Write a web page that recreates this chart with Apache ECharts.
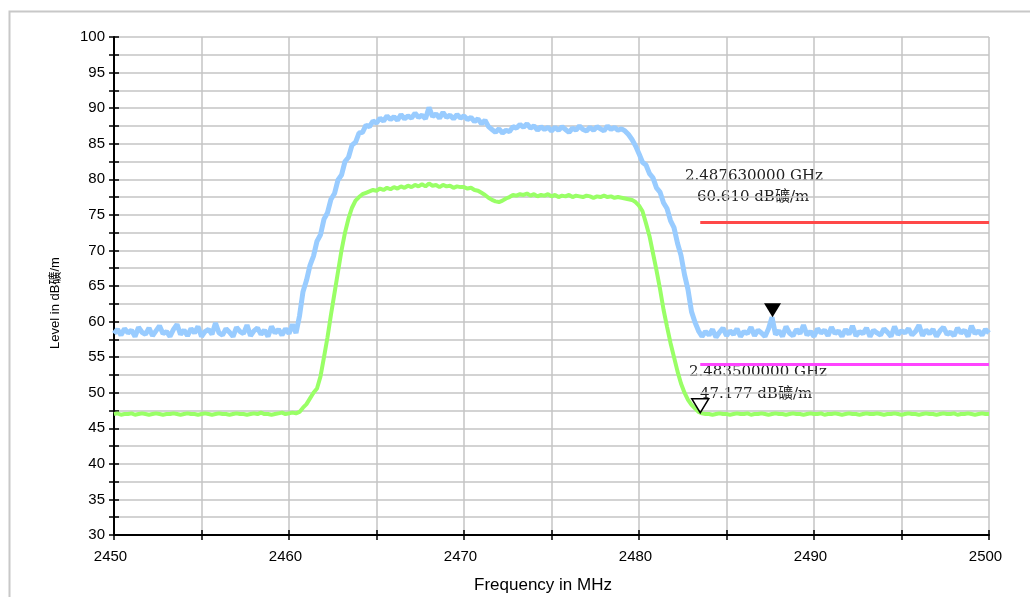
<!DOCTYPE html>
<html>
<head>
<meta charset="utf-8">
<title>Level vs Frequency</title>
<script src="https://cdn.jsdelivr.net/npm/echarts@6/dist/echarts.min.js"></script>
<style>
  html, body { margin: 0; padding: 0; background: #ffffff; }
  #chart { width: 1030px; height: 597px; }
</style>
</head>
<body>
<div id="chart"></div>
<script>
// Sweep: 2450 MHz to 2500 MHz in 0.2 MHz steps (251 points)
const sweepStartMHz = 2450;
const sweepStepMHz = 0.2;

// Peak trace (dBµV/m), one value per sweep point
const peakLevel = [
  // 2450.0 - 2460.4
  58.3, 58.9, 58.1, 59.0, 58.4, 58.8, 57.9, 59.2, 58.5, 58.2,
  59.1, 58.0, 58.7, 59.4, 58.3, 58.6, 57.9, 58.9, 59.6, 58.2,
  58.8, 58.0, 59.0, 58.4, 59.3, 57.9, 58.6, 58.9, 58.2, 59.8,
  58.4, 58.1, 59.0, 58.5, 57.9, 59.2, 58.6, 58.3, 59.5, 58.0,
  58.7, 59.1, 58.2, 58.8, 57.9, 59.3, 58.4, 58.9, 58.1, 59.0,
  58.3, 59.6, 58.4,
  // 2460.6 - 2464.8
  60.8, 64.2, 65.8, 67.9, 69.2, 71.3, 72.2, 74.4, 75.3, 77.2, 78.0,
  79.9, 80.6, 82.5, 83.1, 84.8, 85.2, 86.5, 86.6, 87.6, 87.4, 88.2,
  // 2465.0 - 2469.8
  87.9, 88.6, 88.2, 88.9, 88.4, 88.8, 88.3, 89.1, 88.5, 88.9,
  88.6, 89.3, 88.7, 89.0, 88.5, 90.1, 88.8, 89.2, 88.6, 89.4,
  88.7, 89.0, 88.5, 89.1, 88.6,
  // 2470.0 - 2474.8
  88.9, 88.4, 88.7, 88.1, 88.5, 87.8, 88.3, 87.4, 87.0, 86.6,
  87.1, 86.5, 86.9, 86.7, 87.4, 87.2, 87.7, 87.3, 87.8, 87.2,
  87.5, 86.9, 87.4, 87.0, 87.3,
  // 2475.0 - 2479.8
  86.8, 87.3, 86.9, 87.4, 87.0, 86.6, 87.2, 86.9, 87.5, 87.0,
  86.8, 87.3, 86.9, 87.4, 87.1, 86.8, 87.5, 87.0, 87.3, 86.9,
  87.1, 86.8, 86.3, 85.6, 84.7,
  // 2480.0 - 2483.4
  83.6, 82.4, 82.0, 80.8, 80.2, 78.8, 78.2, 76.7, 75.9, 74.2,
  73.2, 71.0, 69.3, 66.6, 64.5, 61.4, 59.9, 58.7,
  // 2483.6 - 2500.0
  57.9, 58.6, 58.1, 58.9, 57.8, 58.5, 59.1, 58.0, 58.7, 58.2,
  59.0, 57.9, 58.6, 58.3, 59.2, 58.0, 58.8, 58.4, 57.9, 59.0,
  60.6,
  58.2, 58.7, 57.9, 59.3, 58.4, 58.0, 58.9, 58.3, 59.5, 58.1,
  58.6, 57.9, 59.0, 58.4, 58.8, 58.0, 59.2, 58.3, 58.7, 57.9,
  58.9, 58.2, 59.4, 58.0, 58.6, 58.3, 59.1, 57.9, 58.8, 58.4,
  58.1, 59.0, 58.5, 57.9, 59.3, 58.2, 58.7, 58.4, 59.0, 58.1,
  58.6, 59.5, 58.0, 58.8, 58.3, 58.9, 57.9, 58.7, 59.2, 58.2,
  58.5, 58.0, 59.1, 58.4, 58.8, 57.9, 59.4, 58.3, 58.7, 58.1,
  58.9, 58.4
];

// Average trace (dBµV/m), one value per sweep point
const avgLevel = [
  // 2450.0 - 2460.4
  47.0, 47.1, 46.9, 47.0, 47.0, 47.1, 46.9, 47.0, 47.1, 47.0,
  46.9, 47.0, 47.1, 47.0, 46.9, 47.0, 47.0, 47.1, 47.0, 46.9,
  47.0, 47.1, 47.0, 47.0, 46.9, 47.0, 47.1, 47.0, 46.9, 47.0,
  47.1, 47.0, 47.0, 46.9, 47.0, 47.1, 47.0, 47.0, 46.9, 47.0,
  47.1, 47.0, 47.2, 47.0, 47.0, 46.9, 47.0, 47.1, 47.2, 47.0,
  47.1, 47.2, 47.1,
  // 2460.6 - 2464.8
  47.3, 47.9, 48.4, 49.2, 50.0, 50.6, 52.3, 55.0, 57.8, 61.0, 64.0,
  67.0, 70.0, 72.5, 74.5, 76.0, 77.0, 77.5, 77.9, 78.1, 78.3, 78.5,
  // 2465.0 - 2469.8
  78.4, 78.7, 78.5, 78.8, 78.6, 78.9, 78.7, 79.0, 78.8, 79.1,
  78.9, 79.2, 79.0, 79.3, 79.0, 79.4, 79.1, 79.2, 78.9, 79.2,
  79.0, 79.1, 78.8, 79.0, 78.9,
  // 2470.0 - 2474.8
  78.9, 78.7, 78.8, 78.5, 78.4, 78.1, 77.8, 77.4, 77.1, 76.9,
  76.8, 77.0, 77.3, 77.5, 77.8, 77.7, 77.9, 77.8, 78.0, 77.7,
  77.9, 77.6, 77.8, 77.7, 77.9,
  // 2475.0 - 2479.8
  77.6, 77.8, 77.5, 77.7, 77.6, 77.8, 77.5, 77.7, 77.6, 77.5,
  77.7, 77.6, 77.4, 77.6, 77.5, 77.7, 77.5, 77.6, 77.4, 77.5,
  77.4, 77.3, 77.2, 77.1, 76.8,
  // 2480.0 - 2483.4
  76.3, 75.5, 73.8, 72.0, 69.6, 67.2, 64.6, 61.7, 59.3, 57.0,
  55.0, 53.0, 51.3, 50.0, 49.0, 48.3, 47.8, 47.3,
  // 2483.6 - 2500.0
  47.1, 47.0, 47.0, 46.9, 47.0, 47.1, 47.0, 47.0, 46.9, 47.0,
  47.1, 47.0, 47.0, 47.1, 46.9, 47.0, 47.0, 47.1, 47.0, 46.9,
  47.0, 47.1, 47.0, 47.0, 46.9, 47.0, 47.1, 47.0, 47.0, 46.9,
  47.0, 47.1, 47.0, 47.0, 47.1, 46.9, 47.0, 47.0, 47.1, 47.0,
  46.9, 47.0, 47.1, 47.0, 47.0, 46.9, 47.0, 47.1, 47.0, 47.0,
  47.1, 47.0, 46.9, 47.0, 47.0, 47.1, 47.0, 46.9, 47.0, 47.1,
  47.0, 47.0, 46.9, 47.0, 47.1, 47.0, 47.0, 46.9, 47.0, 47.1,
  47.0, 47.0, 47.1, 46.9, 47.0, 47.0, 47.1, 47.0, 46.9, 47.0,
  47.1, 47.0, 47.0
];

// Limit lines (restricted band above 2483.5 MHz)
const limitStartMHz = [2483.5, 2483.5];
const limitEndMHz = [2500, 2500];
const limitLevel = [74, 54];
const limitColor = ['#ff4848', '#ff44ff'];

// Markers: M1 on the peak trace, M2 on the average trace
const markerFreqMHz = [2487.63, 2483.5];
const markerLevel = [60.61, 47.177];

// Axis ranges
const freqMin = 2450, freqMax = 2500, freqInterval = 5;
const levelMin = 30, levelMax = 100, levelInterval = 2.5;

const unitText = 'dB礦/m';
const freq = peakLevel.map((_, i) => +(sweepStartMHz + i * sweepStepMHz).toFixed(1));

const chart = echarts.init(document.getElementById('chart'), null, { renderer: 'canvas' });

const tickFont = 'Liberation Sans, Arial, sans-serif';
const gridColor = '#c4c4c4';

function xAxisBase() {
  return { type: 'value', gridIndex: 0, min: freqMin, max: freqMax, interval: freqInterval, position: 'bottom' };
}
function yAxisBase() {
  return { type: 'value', gridIndex: 0, min: levelMin, max: levelMax, interval: levelInterval, position: 'left' };
}

const downTri = 'path://M0,0 L16,0 L8,14 Z';

const markerLabel = (i) => [
  (markerFreqMHz[i] / 1000).toFixed(9) + ' GHz',
  markerLevel[i].toFixed(3) + ' ' + unitText
];

const annFont = '15px "DejaVu Serif", "Liberation Serif", "Noto Sans CJK SC", serif';

chart.setOption({
  animation: false,
  backgroundColor: '#ffffff',
  grid: { left: 114, top: 37, width: 875, height: 498, containLabel: false },
  xAxis: [
    Object.assign(xAxisBase(), {
      axisLine: { show: true, lineStyle: { color: '#000', width: 2 } },
      axisTick: { show: true, inside: false, length: 5, lineStyle: { color: '#000', width: 1.5 } },
      axisLabel: {
        show: true, fontSize: 15, fontFamily: tickFont, color: '#000', margin: 14,
        padding: [0, 7, 0, 0],
        formatter: (v) => (v % 10 === 0 ? String(v) : '')
      },
      splitLine: { show: true, lineStyle: { color: gridColor, width: 1.5 } }
    }),
    Object.assign(xAxisBase(), {
      axisLine: { show: false },
      axisTick: { show: true, inside: true, length: 5, lineStyle: { color: '#000', width: 1.5 } },
      axisLabel: { show: false },
      splitLine: { show: false }
    })
  ],
  yAxis: [
    Object.assign(yAxisBase(), {
      axisLine: { show: true, lineStyle: { color: '#000', width: 2 } },
      axisTick: { show: true, inside: false, length: 5, lineStyle: { color: '#000', width: 1.5 } },
      axisLabel: {
        show: true, fontSize: 15, fontFamily: tickFont, color: '#000', margin: 9,
        formatter: (v) => (v % 5 === 0 ? String(v) : '')
      },
      splitLine: { show: true, lineStyle: { color: gridColor, width: 1.5 } }
    }),
    Object.assign(yAxisBase(), {
      axisLine: { show: false },
      axisTick: { show: true, inside: true, length: 5, lineStyle: { color: '#000', width: 1.5 } },
      axisLabel: { show: false },
      splitLine: { show: false }
    })
  ],
  graphic: [
    // outer frame
    { type: 'rect', left: 7, top: 9, silent: true,
      shape: { x: 0, y: 0, width: 1060, height: 640 },
      style: { fill: 'none', stroke: '#c8c8c8', lineWidth: 2 } },
    // axis titles
    { type: 'text', x: 55, y: 303, rotation: Math.PI / 2, silent: true,
      style: { text: 'Level in ' + unitText, font: '13px "Liberation Sans", Arial, "Noto Sans CJK SC", sans-serif',
               fill: '#000', align: 'center', verticalAlign: 'middle' } },
    { type: 'text', x: 543, y: 585, silent: true,
      style: { text: 'Frequency in MHz', font: '17px "Liberation Sans", Arial, sans-serif',
               fill: '#000', align: 'center', verticalAlign: 'middle' } },
    // marker readouts
    { type: 'text', x: 685, y: 169, silent: true,
      style: { text: markerLabel(0)[0], font: annFont, fill: '#222' } },
    { type: 'text', x: 697, y: 190, silent: true,
      style: { text: markerLabel(0)[1], font: annFont, fill: '#222' } },
    { type: 'text', x: 689, y: 365, silent: true,
      style: { text: markerLabel(1)[0], font: annFont, fill: '#222' } },
    { type: 'text', x: 700, y: 387, silent: true,
      style: { text: markerLabel(1)[1], font: annFont, fill: '#222' } }
  ],
  series: [
    {
      name: 'Peak', type: 'line', xAxisIndex: 0, yAxisIndex: 0,
      data: freq.map((f, i) => [f, peakLevel[i]]),
      showSymbol: false, symbol: 'none',
      lineStyle: { color: '#99ccff', width: 5, join: 'bevel' },
      z: 3,
      markLine: {
        silent: true, symbol: 'none', label: { show: false },
        data: limitLevel.map((lv, i) => [
          { coord: [limitStartMHz[i], lv], lineStyle: { color: limitColor[i], width: 3, type: 'solid' } },
          { coord: [limitEndMHz[i], lv] }
        ])
      },
      markPoint: {
        silent: true,
        data: [{
          coord: [markerFreqMHz[0], markerLevel[0]],
          symbol: downTri, symbolSize: [17, 14], symbolOffset: [0, '-50%'],
          itemStyle: { color: '#000' }, label: { show: false }
        }]
      }
    },
    {
      name: 'Average', type: 'line', xAxisIndex: 0, yAxisIndex: 0,
      data: freq.map((f, i) => [f, avgLevel[i]]),
      showSymbol: false, symbol: 'none',
      lineStyle: { color: '#99ff66', width: 4, join: 'bevel' },
      z: 2,
      markPoint: {
        silent: true,
        data: [{
          coord: [markerFreqMHz[1], markerLevel[1]],
          symbol: downTri, symbolSize: [17, 14], symbolOffset: [0, '-50%'],
          itemStyle: { color: 'rgba(255,255,255,0)', borderColor: '#000', borderWidth: 1.5 },
          label: { show: false }
        }]
      }
    }
  ]
});
</script>
</body>
</html>
